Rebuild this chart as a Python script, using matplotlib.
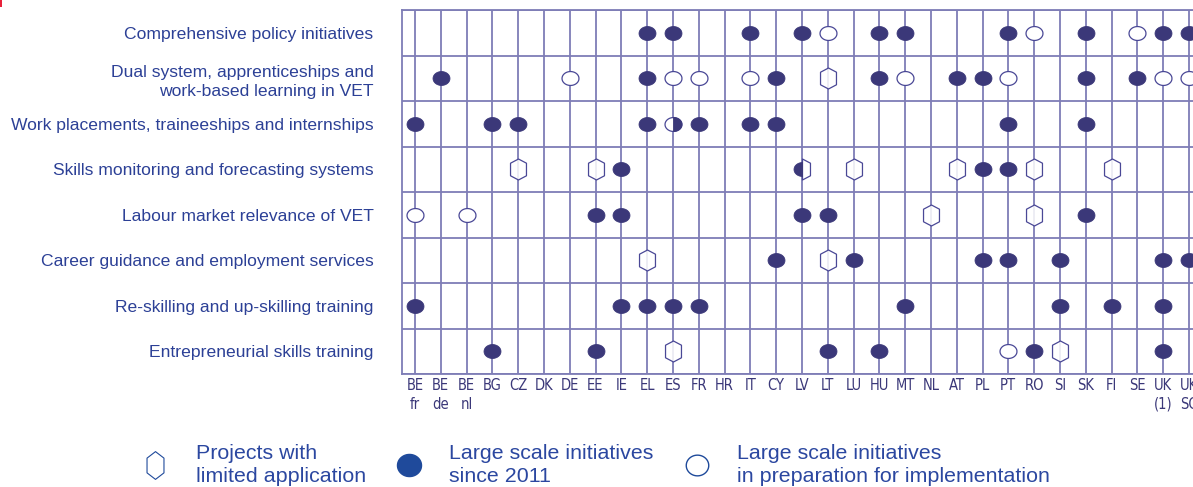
import matplotlib
matplotlib.use("Agg")
import matplotlib.pyplot as plt
from matplotlib.path import Path
from matplotlib.lines import Line2D
from matplotlib.patches import Rectangle
import numpy as np

# ---------------- data ----------------
countries = ["BE\nfr", "BE\nde", "BE\nnl", "BG", "CZ", "DK", "DE", "EE", "IE", "EL", "ES",
             "FR", "HR", "IT", "CY", "LV", "LT", "LU", "HU", "MT", "NL", "AT", "PL", "PT",
             "RO", "SI", "SK", "FI", "SE", "UK\n(1)", "UK\nSC"]

categories = ["Comprehensive policy initiatives",
              "Dual system, apprenticeships and\nwork-based learning in VET",
              "Work placements, traineeships and internships",
              "Skills monitoring and forecasting systems",
              "Labour market relevance of VET",
              "Career guidance and employment services",
              "Re-skilling and up-skilling training",
              "Entrepreneurial skills training"]

# F = large scale since 2011, O = in preparation, H = limited projects,
# OF = half open / half filled, FH = half filled / half limited project
comprehensive = {"EL": "F", "ES": "F", "IT": "F", "LV": "F", "LT": "O", "HU": "F", "MT": "F",
                 "PT": "F", "RO": "O", "SK": "F", "SE": "O", "UK\n(1)": "F", "UK\nSC": "F"}
dual_system = {"BE\nde": "F", "DE": "O", "EL": "F", "ES": "O", "FR": "O", "IT": "O", "CY": "F",
               "LT": "H", "HU": "F", "MT": "O", "AT": "F", "PL": "F", "PT": "O", "SK": "F",
               "SE": "F", "UK\n(1)": "O", "UK\nSC": "O"}
work_placements = {"BE\nfr": "F", "BG": "F", "CZ": "F", "EL": "F", "ES": "OF", "FR": "F",
                   "IT": "F", "CY": "F", "PT": "F", "SK": "F"}
skills_monitoring = {"CZ": "H", "EE": "H", "IE": "F", "LV": "FH", "LU": "H", "AT": "H",
                     "PL": "F", "PT": "F", "RO": "H", "FI": "H"}
labour_market = {"BE\nfr": "O", "BE\nnl": "O", "EE": "F", "IE": "F", "LV": "F", "LT": "F",
                 "NL": "H", "RO": "H", "SK": "F"}
career_guidance = {"EL": "H", "CY": "F", "LT": "H", "LU": "F", "PL": "F", "PT": "F", "SI": "F",
                   "UK\n(1)": "F", "UK\nSC": "F"}
reskilling = {"BE\nfr": "F", "IE": "F", "EL": "F", "ES": "F", "FR": "F", "MT": "F", "SI": "F",
              "FI": "F", "UK\n(1)": "F"}
entrepreneurial = {"BG": "F", "EE": "F", "ES": "H", "LT": "F", "HU": "F", "PT": "O", "RO": "F",
                   "SI": "H", "UK\n(1)": "F"}

rows = [comprehensive, dual_system, work_placements, skills_monitoring,
        labour_market, career_guidance, reskilling, entrepreneurial]

legend_labels = ["Projects with\nlimited application",
                 "Large scale initiatives\nsince 2011",
                 "Large scale initiatives\nin preparation for implementation"]

# ---------------- styles ----------------
W, H = 1193, 487
DOT = "#3b3879"
EDGE = "#4a4896"
GRID = "#7e7db6"
LABEL = "#2c4096"
LEG_TXT = "#2b47a0"
LEG_DOT = "#1f4a9b"

t = np.linspace(0, 2 * np.pi, 60)


def half_ellipse(side):
    a = np.linspace(-np.pi / 2, np.pi / 2, 40)
    verts = np.column_stack([np.cos(a) * side, 0.82 * np.sin(a)])
    verts = np.vstack([verts, verts[:1]])
    codes = [Path.MOVETO] + [Path.LINETO] * (len(verts) - 2) + [Path.CLOSEPOLY]
    verts = np.vstack([verts, [[0, 1.0]], [[0, -1.0]]])   # scale anchors
    codes += [Path.MOVETO, Path.MOVETO]
    return Path(verts, codes)


half_ell_right = half_ellipse(1)
half_ell_left = half_ellipse(-1)
ell_scaled = Path(np.vstack([np.column_stack([np.cos(t), 0.82 * np.sin(t)]), [[0, 1.0], [0, -1.0]]]),
                  [Path.MOVETO] + [Path.LINETO] * (len(t) - 1) + [Path.MOVETO, Path.MOVETO])

hx = 0.76
hexa = Path([(0, 1), (hx, 0.6), (hx, -0.6), (0, -1), (-hx, -0.6), (-hx, 0.6), (0, 1)], closed=True)
half_hex = Path([(0, 1), (hx, 0.6), (hx, -0.6), (0, -1), (0, 1)], closed=True)

plt.rcParams["font.family"] = ["Liberation Sans", "DejaVu Sans"]
fig = plt.figure(figsize=(W / 100, H / 100), dpi=100)
fig.patch.set_facecolor("white")

n_cols = len(countries)
col_px = 25.8
left_px, top_px, bot_px = 402, 10, 374
ax = fig.add_axes([left_px / W, 1 - bot_px / H, n_cols * col_px / W, (bot_px - top_px) / H])
ax.set_xlim(-0.5, n_cols - 0.5)
ax.set_ylim(len(categories), 0)

ax.set_xticks(range(n_cols))
ax.set_xticklabels(countries, family=["Liberation Sans Narrow", "DejaVu Sans"],
                   stretch="condensed", fontsize=10.5, color=DOT, linespacing=1.3)
ax.set_yticks(np.arange(len(categories)) + 0.5)
ax.set_yticklabels(categories, fontsize=12.6, color=LABEL, linespacing=1.35)
ax.set_yticks(np.arange(len(categories) + 1), minor=True)
ax.tick_params(axis="x", length=0, pad=3.0)
ax.tick_params(axis="y", which="both", length=0, pad=20.5)
ax.grid(axis="x", which="major", color=GRID, lw=1.3)
ax.grid(axis="y", which="minor", color=GRID, lw=1.3)
for s in ["left", "top", "bottom"]:
    ax.spines[s].set_color(GRID)
    ax.spines[s].set_linewidth(1.3)
ax.spines["right"].set_visible(False)
ax.set_axisbelow(True)

ms_dot = 12.2
ms_hex = 15.1
for r, row in enumerate(rows):
    y = r + 0.5
    for c, code in row.items():
        x = countries.index(c)
        if code == "F":
            ax.plot(x, y, marker=ell_scaled, ms=ms_dot, mfc=DOT, mec=DOT, mew=0.6, ls="none", zorder=3)
        elif code == "O":
            ax.plot(x, y, marker=ell_scaled, ms=ms_dot, mfc="white", mec=EDGE, mew=0.9, ls="none", zorder=3)
        elif code == "H":
            ax.plot(x, y, marker=hexa, ms=ms_hex, mfc=(1, 1, 1, 0.85), mec=EDGE, mew=0.9, ls="none", zorder=3)
        elif code == "OF":
            ax.plot(x, y, marker=ell_scaled, ms=ms_dot, mfc="white", mec=EDGE, mew=0.9, ls="none", zorder=3)
            ax.plot(x, y, marker=half_ell_right, ms=ms_dot, mfc=DOT, mec=DOT, mew=0.6, ls="none", zorder=4)
        elif code == "FH":
            ax.plot(x, y, marker=half_hex, ms=ms_hex, mfc=(1, 1, 1, 0.85), mec=EDGE, mew=0.9, ls="none", zorder=3)
            ax.plot(x, y, marker=half_ell_left, ms=ms_dot, mfc=DOT, mec=DOT, mew=0.6, ls="none", zorder=4)

# legend
leg_hex = Path([(0, 1), (0.61, 0.53), (0.61, -0.53), (0, -1), (-0.61, -0.53), (-0.61, 0.53), (0, 1)], closed=True)
leg_ell = Path(np.column_stack([np.cos(t), 0.92 * np.sin(t)]), closed=True)
handles = [
    Line2D([], [], ls="none", marker=leg_hex, ms=20, mfc="white", mec=LEG_DOT, mew=0.8),
    Line2D([], [], ls="none", marker=leg_ell, ms=17.3, mfc=LEG_DOT, mec=LEG_DOT),
    Line2D([], [], ls="none", marker=leg_ell, ms=16.2, mfc="white", mec=LEG_DOT, mew=1.0),
]
leg = fig.legend(handles, legend_labels, loc="center left",
                 bbox_to_anchor=(144.3 / W, 1 - 465 / H), ncol=3, frameon=False,
                 fontsize=15.4, handlelength=1.0, handletextpad=1.40, columnspacing=1.51,
                 borderpad=0, borderaxespad=0, labelcolor=LEG_TXT)
for txt in leg.get_texts():
    txt.set_linespacing(1.25)

# small red mark at top-left corner
fig.add_artist(Rectangle((0, 1 - 7 / H), 2 / W, 7 / H, transform=fig.transFigure,
                         color="#e8213a", lw=0))

fig.savefig("out.png", dpi=100)
